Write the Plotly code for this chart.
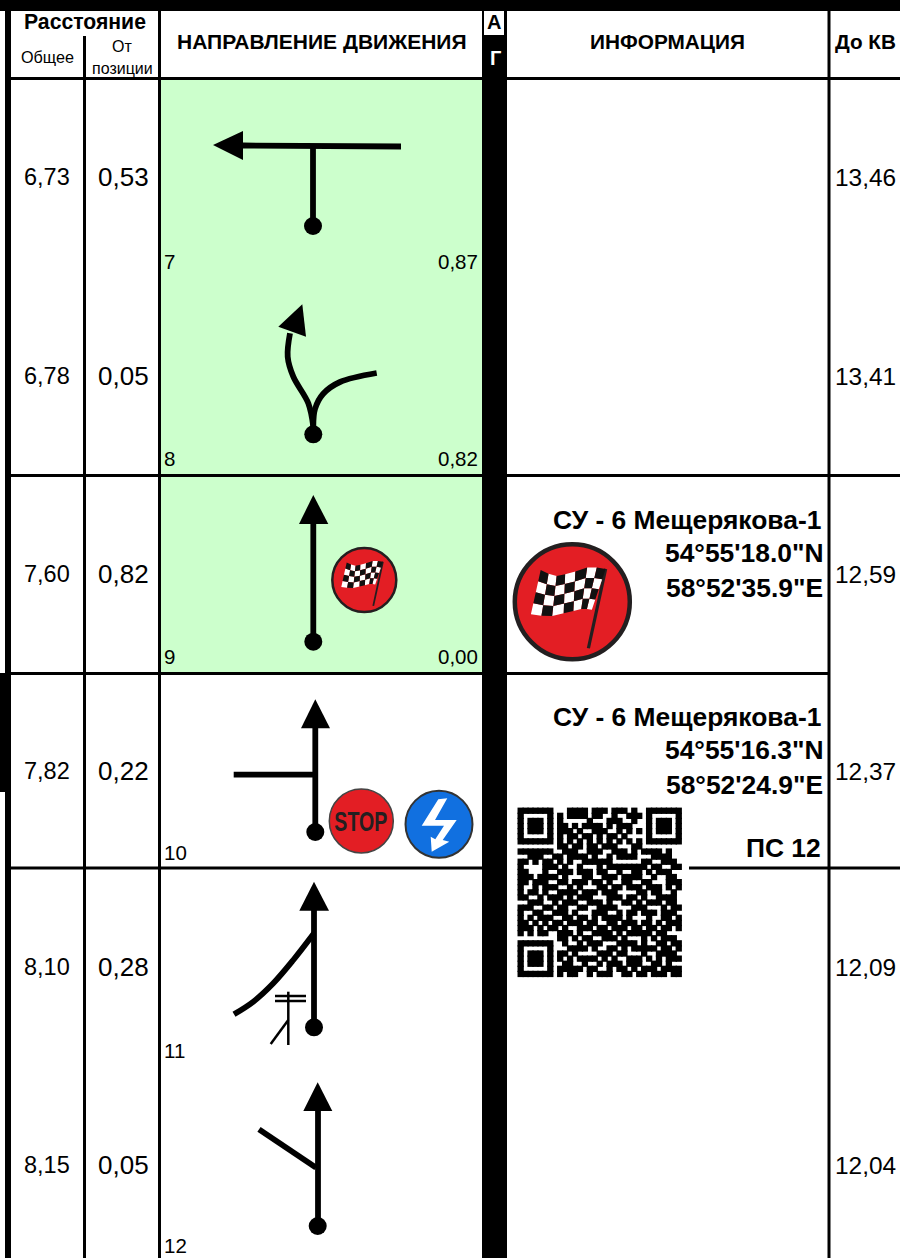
import plotly.graph_objects as go

# ---------- table data ----------
total_km = ["6,73", "6,78", "7,60", "7,82", "8,10", "8,15"]
from_pos = ["0,53", "0,05", "0,82", "0,22", "0,28", "0,05"]
to_cp = ["13,46", "13,41", "12,59", "12,37", "12,09", "12,04"]
row_mid_y = [177, 376, 574, 771, 967, 1165]
pos_no = ["7", "8", "9", "10", "11", "12"]
pos_next = ["0,87", "0,82", "0,00", "", "", ""]
label_y = [261, 458, 656, 852, 1050, 1245]

info_lines = [
    ("СУ - 6 Мещерякова-1", 821, 520), ("54°55'18.0\"N", 823, 553), ("58°52'35.9\"E", 823, 588),
    ("СУ - 6 Мещерякова-1", 821, 717), ("54°55'16.3\"N", 823, 750), ("58°52'24.9\"E", 823, 785),
    ("ПС 12", 821, 848),
]

# ---------- grid: x0, x1, y0, y1 ----------
GREEN = "#CCFFCC"
green_cells = [(160, 482, 80, 474), (160, 482, 477, 672)]
black_bars = [
    (0, 900, 0, 11), (5, 11, 11, 1258), (0, 11, 673, 792),
    (83, 86, 36, 1258), (158, 161, 11, 1258), (482, 507, 11, 1258), (827.5, 830.5, 11, 1258),
    (5, 900, 77, 80), (5, 900, 474, 477), (5, 830, 672, 675), (5, 900, 866.5, 869.5),
]
white_boxes = [(484, 504, 11, 35), (507, 689, 800, 985)]

# ---------- road diagrams (x list, y list) ----------
roads = [
    ([313, 313], [226, 146]), ([401, 243], [146.5, 145.5]),
    ([313.3, 308.3, 293.3, 287.7, 290], [426.7, 403.3, 376.7, 356.7, 333.3]),
    ([313.3, 315, 323, 340, 376.7], [426, 409, 394, 382, 373]),
    ([313.3, 313.3], [642, 522]),
    ([315.3, 315.3], [832, 726]), ([233.7, 313], [774.7, 774.7]),
    ([314, 314], [1027, 908]),
    ([234, 253.3, 273.3, 293.3, 314], [1014.3, 1001.7, 983.3, 960, 933.3]),
    ([318, 318], [1226, 1109]), ([259, 316], [1129.3, 1167.7]),
]
heads = [
    ([213, 243, 243], [145, 131, 160]),
    ([302.3, 278.3, 306], [304.3, 326.7, 336.7]),
    ([313.3, 299, 328.3], [495, 524, 524]),
    ([315.3, 301, 330], [699.3, 728.3, 728.3]),
    ([314, 299.3, 329], [881.7, 910.7, 910.7]),
    ([317.7, 303.3, 332.3], [1082.3, 1111, 1111]),
]
dots_x = [313, 313.3, 313.3, 315.3, 314, 317.7]
dots_y = [226, 434.3, 641.7, 832, 1027.3, 1226]
pole_lines = [
    ([288.3, 288.3], [991.7, 1045]), ([275, 306], [996, 996]),
    ([275, 306], [1001, 1001]), ([288.3, 270.7], [1020, 1044]),
]

# ---------- icons ----------
flag_icons = [(364.3, 580, 32), (572.3, 601.7, 57.5)]   # centre x, y, radius
bolt_x = [438.3, 447.3, 435, 456.7, 442.7, 449.3, 431.7, 430.7, 435.3, 444, 421.7]
bolt_y = [799.3, 798.3, 820, 820, 840, 841.7, 851.7, 836.7, 839.3, 825.7, 825.7]
stop_icon = (361.3, 821, 32)
blue_icon = (439, 824.3, 33.5)

# flag edges in icon-radius units: x, y
flag_top = [(-0.55, -0.55), (-0.31, -0.44), (-0.05, -0.49), (0.31, -0.61), (0.58, -0.57)]
flag_bot = [(-0.72, 0.22), (-0.40, 0.26), (-0.05, 0.18), (0.19, 0.12), (0.34, 0.14)]
flag_cols, flag_rows = 7, 4

# ---------- QR code ----------
qr_rows = [
    "111111100011110111011101001111111",
    "100000101011110110010011101000001",
    "101110101000001000111001001011101",
    "101110101101011110101110001011101",
    "101110101110100111001010101011101",
    "100000101011011010110100001000001",
    "111111101010101010101010101111111",
    "000000001101101101110001100000000",
    "111111100111001110011101011110100",
    "001110011011110100101111000111100",
    "110101101010011111100000011001110",
    "100001110100100010111111110110011",
    "110001001110111011001001101011100",
    "111011110100011001110111100100110",
    "110111001101110110100110011000111",
    "100101110010100011011011101110101",
    "101101001111011101110000110110010",
    "110010111010111000111011010011110",
    "001110010111001110100110101110110",
    "111001101100110011110001110001011",
    "100110011101000111001011011101110",
    "101011100110110101111010001001101",
    "110101011011101100110111011010111",
    "111010110100111011011101101101101",
    "101011001110100111101011111011000",
    "000000001101011001110100010101110",
    "111111100100101110001111010011011",
    "100000100011110100110101111101101",
    "101110101101000011101100010011110",
    "101110101010111101010011101010111",
    "101110100110010010111011100110100",
    "100000101111101100101101011101111",
    "111111101011001011100110110111011",
]
qr_x0, qr_y0, qr_dx, qr_dy = 518.2, 808.2, 4.94, 5.1

FONT = "Liberation Sans"
INK = "#231F20"

fig = go.Figure()


def rect(b, color):
    fig.add_shape(type="rect", x0=b[0], x1=b[1], y0=b[2], y1=b[3], fillcolor=color,
                  line_width=0, layer="below")


def text(t, x, y, size, anchor="center", bold=False, color="black", family=FONT):
    fig.add_annotation(text=f"<b>{t}</b>" if bold else t, x=x, y=y, xref="x", yref="y",
                       showarrow=False, xanchor=anchor, yanchor="middle",
                       font=dict(family=family, size=size, color=color), borderpad=0, borderwidth=0)


def line(xs, ys, width, color="black", spline=False):
    fig.add_trace(go.Scatter(x=xs, y=ys, mode="lines", hoverinfo="skip",
                             line=dict(color=color, width=width, shape="spline" if spline else "linear")))


def poly(xs, ys, color):
    fig.add_trace(go.Scatter(x=xs, y=ys, mode="lines", fill="toself", fillcolor=color,
                             line=dict(width=0, color=color), hoverinfo="skip"))


def disc(x, y, r, fill, edge, edge_w):
    fig.add_trace(go.Scatter(x=[x], y=[y], mode="markers", hoverinfo="skip",
                             marker=dict(symbol="circle", size=2 * r, sizemode="diameter", color=fill,
                                         line=dict(color=edge, width=edge_w))))


def lerp_edge(edge, t):
    f = t * (len(edge) - 1)
    i = min(int(f), len(edge) - 2)
    k = f - i
    return (edge[i][0] * (1 - k) + edge[i + 1][0] * k, edge[i][1] * (1 - k) + edge[i + 1][1] * k)


def flag_pt(cx, cy, r, u, v):
    a, b = lerp_edge(flag_top, u), lerp_edge(flag_bot, u)
    return cx + r * (a[0] * (1 - v) + b[0] * v), cy + r * (a[1] * (1 - v) + b[1] * v)


def flag(cx, cy, r, ring):
    disc(cx, cy, r, "#E31E24", INK, ring)
    line([cx + 0.58 * r, cx + 0.28 * r], [cy - 0.57 * r, cy + 0.81 * r], max(1.3, r / 18), INK)
    wx, wy, bx, by = [], [], [], []
    for i in range(flag_cols):
        for j in range(flag_rows):
            u0, u1, v0, v1 = i / flag_cols, (i + 1) / flag_cols, j / flag_rows, (j + 1) / flag_rows
            c = [flag_pt(cx, cy, r, u0, v0), flag_pt(cx, cy, r, u1, v0),
                 flag_pt(cx, cy, r, u1, v1), flag_pt(cx, cy, r, u0, v1), flag_pt(cx, cy, r, u0, v0)]
            tx, ty = (bx, by) if (i + j) % 2 == 0 else (wx, wy)
            tx += [p[0] for p in c] + [None]
            ty += [p[1] for p in c] + [None]
    poly(wx, wy, "white")
    poly(bx, by, "#111111")


# grid
for b in green_cells:
    rect(b, GREEN)
for b in black_bars:
    rect(b, "black")
for b in white_boxes:
    rect(b, "white")

# QR: dark modules only, slightly over-sized as in the source bitmap
qx, qy = [], []
for j, row in enumerate(qr_rows):
    for i, c in enumerate(row):
        if c == "1":
            qx.append(qr_x0 + (i + 0.5) * qr_dx)
            qy.append(qr_y0 + (j + 0.5) * qr_dy)
fig.add_trace(go.Scatter(x=qx, y=qy, mode="markers", hoverinfo="skip",
                         marker=dict(symbol="square", size=6.3, color="black", line_width=0)))

# roads
for xs, ys in roads:
    line(xs, ys, 5.8, spline=len(xs) > 2)
for xs, ys in pole_lines:
    line(xs, ys, 2.5)
for xs, ys in heads:
    poly(xs + xs[:1], ys + ys[:1], "black")
fig.add_trace(go.Scatter(x=dots_x, y=dots_y, mode="markers", hoverinfo="skip",
                         marker=dict(color="black", size=18, line_width=0)))

# icons
flag(*flag_icons[0], 2.5)
flag(*flag_icons[1], 4.5)
disc(stop_icon[0], stop_icon[1], stop_icon[2], "#E31E24", "#444444", 1.5)
text("STOP", stop_icon[0], stop_icon[1], 28, bold=True, color=INK)
disc(blue_icon[0], blue_icon[1], blue_icon[2], "#1170E0", "#333333", 2)
poly(bolt_x + bolt_x[:1], bolt_y + bolt_y[:1], "white")

# headers
text("Расстояние", 85, 21, 21.2, bold=True)
text("Общее", 47, 57, 16.2)
text("От", 122, 46, 16)
text("позиции", 122.5, 68, 16)
text("НАПРАВЛЕНИЕ ДВИЖЕНИЯ", 322, 41, 21, bold=True)
text("А", 494, 22, 20, bold=True)
text("Г", 495, 58, 20, bold=True, color="white")
text("ИНФОРМАЦИЯ", 667.5, 41, 20.8, bold=True)
text("До КВ", 865.5, 41, 20.7, bold=True)

# rows
for i in range(6):
    text(total_km[i], 47, row_mid_y[i], 23.5)
    text(from_pos[i], 123, row_mid_y[i], 26)
    text(to_cp[i], 865.5, row_mid_y[i], 24.4)
    text(pos_no[i], 164, label_y[i], 20.5, anchor="left")
    if pos_next[i]:
        text(pos_next[i], 478, label_y[i], 20.5, anchor="right")

for t, x, y in info_lines:
    text(t, x, y, 26.4, anchor="right", bold=True)

fig.update_layout(
    width=900, height=1258, autosize=False, margin=dict(l=0, r=0, t=0, b=0),
    paper_bgcolor="white", plot_bgcolor="white", showlegend=False,
    xaxis=dict(range=[0, 900], visible=False, fixedrange=True),
    yaxis=dict(range=[1258, 0], visible=False, fixedrange=True),
)
narrow_stop = """
document.body.style.margin='0';document.body.style.overflow='hidden';
document.querySelectorAll('.annotation-text').forEach(function(t){
  if(t.textContent==='STOP'){
    var b=t.getBBox(), s=0.7, c=b.x+b.width/2;
    t.setAttribute('transform','translate('+(c*(1-s))+',0) scale('+s+',1)');
  }
});
"""
fig.write_html("out.html", config={"displayModeBar": False}, post_script=narrow_stop)
